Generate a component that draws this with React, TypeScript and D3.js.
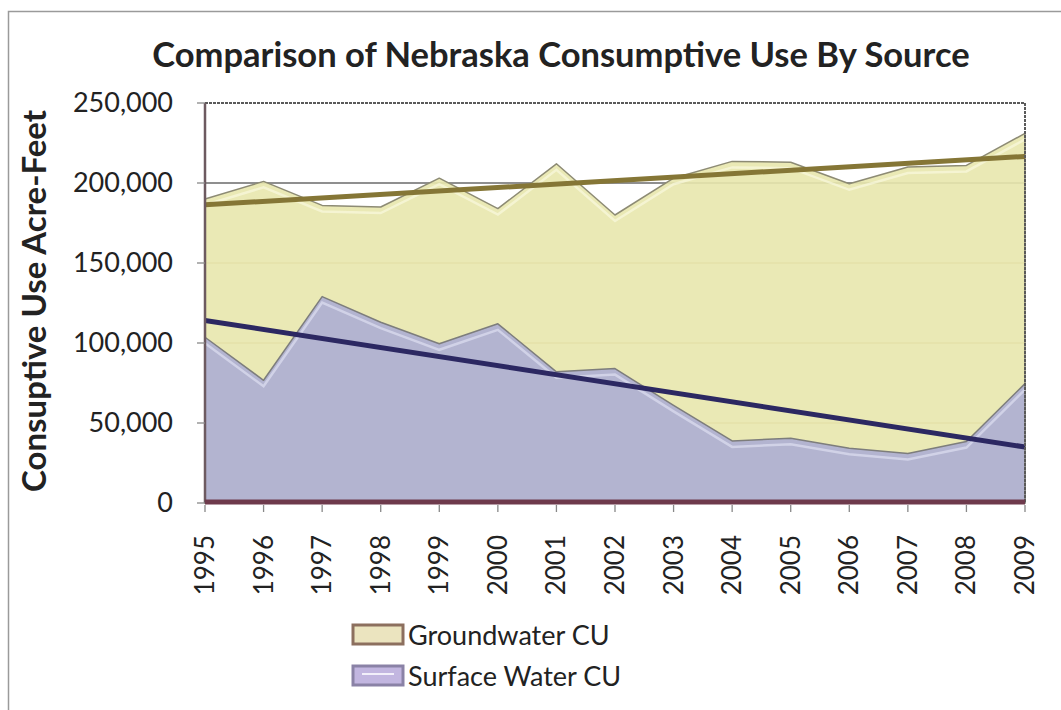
import React from "react";
import * as d3 from "d3";

const years = [1995, 1996, 1997, 1998, 1999, 2000, 2001, 2002, 2003, 2004, 2005, 2006, 2007, 2008, 2009];
// acre-feet
const groundwater = [190000, 201000, 186000, 185000, 203000, 184000, 212000, 180000, 203000, 213500, 213000, 199500, 210000, 211000, 231000];
const surfaceWater = [103600, 76700, 129000, 113000, 99500, 112000, 82000, 84000, 61000, 38800, 40400, 34200, 31000, 38400, 74600];
const yTicks = [0, 50000, 100000, 150000, 200000, 250000];

const W = 1061;
const H = 710;
const margin = { left: 205, right: 36, top: 103, bottom: 207 };
const font = "Lato, 'Open Sans', sans-serif";

// least-squares linear trend, like the spreadsheet trendline
function trend(values: number[]) {
  const n = values.length;
  const mx = (n - 1) / 2;
  const my = d3.mean(values) as number;
  let num = 0;
  let den = 0;
  values.forEach((v, i) => {
    num += (i - mx) * (v - my);
    den += (i - mx) * (i - mx);
  });
  const slope = num / den;
  return [my - slope * mx, my + slope * (n - 1 - mx)];
}

const App: React.FC = () => {
  const x = d3
    .scaleLinear()
    .domain([years[0], years[years.length - 1]])
    .range([margin.left, W - margin.right]);
  const y = d3
    .scaleLinear()
    .domain([0, 250000])
    .range([H - margin.bottom, margin.top]);

  const area = d3
    .area<number>()
    .x((_, i) => x(years[i]))
    .y0(y(0))
    .y1((d) => y(d));
  const line = d3
    .line<number>()
    .x((_, i) => x(years[i]))
    .y((d) => y(d));

  const gwTrend = trend(groundwater);
  const swTrend = trend(surfaceWater);
  const endYears = [years[0], years[years.length - 1]];
  const fmt = d3.format(",");

  const x0 = x.range()[0];
  const x1 = x.range()[1];
  const yb = y(0);
  const yt = y(250000);

  return (
    <svg width={W} height={H} style={{ position: "absolute", left: 0, top: 0, background: "#fff" }}>
      {/* outer chart frame */}
      <rect x={8.5} y={11.5} width={W + 20} height={H + 20} fill="none" stroke="#9a9a9a" strokeWidth={1.5} />

      <text x={561} y={67} textAnchor="middle" fontFamily={font} fontWeight={700} fontSize={34.5} fill="#222">
        Comparison of Nebraska Consumptive Use By Source
      </text>

      {/* gridlines */}
      {yTicks.slice(1, -1).map((t) => (
        <line key={t} x1={x0} x2={x1} y1={y(t)} y2={y(t)} stroke={t === 200000 ? "#6a6a6a" : "#c9a98a"} strokeWidth={1.3} />
      ))}

      <path d={area(groundwater) || ""} fill="#e8e7ad" fillOpacity={0.9} stroke="#8d8b74" strokeWidth={1.5} strokeLinejoin="round" />
      <path d={line(groundwater) || ""} transform="translate(0,6)" fill="none" stroke="#fbfbe6" strokeWidth={2.5} opacity={0.6} />
      <path d={area(surfaceWater) || ""} fill="#b3b4d0" stroke="#7d7d7c" strokeWidth={1.5} strokeLinejoin="round" />
      <path d={line(surfaceWater) || ""} transform="translate(0,6)" fill="none" stroke="#e4e6f6" strokeWidth={2.5} opacity={0.6} />

      {/* trendlines */}
      <line x1={x(endYears[0])} x2={x(endYears[1])} y1={y(gwTrend[0])} y2={y(gwTrend[1])} stroke="#857636" strokeWidth={5} />
      <line x1={x(endYears[0])} x2={x(endYears[1])} y1={y(swTrend[0])} y2={y(swTrend[1])} stroke="#2c2862" strokeWidth={5} />

      {/* plot frame */}
      <line x1={x0} x2={x1} y1={yt} y2={yt} stroke="#5a5a5a" strokeWidth={2} strokeDasharray="3 1" />
      <line x1={x1} x2={x1} y1={yt} y2={yb} stroke="#5a5a5a" strokeWidth={2} strokeDasharray="3 1" />
      <line x1={x0} x2={x0} y1={yt} y2={yb} stroke="#6d5a60" strokeWidth={2.5} />
      <line x1={x0} x2={x1} y1={yb - 1} y2={yb - 1} stroke="#6e3a4c" strokeWidth={5} />

      {/* y axis */}
      {yTicks.map((t) => (
        <g key={t}>
          <line x1={x0 - 8} x2={x0} y1={y(t)} y2={y(t)} stroke="#888" strokeWidth={1.3} />
          <text x={173} y={y(t) + 9} textAnchor="end" fontFamily={font} fontSize={27} fill="#222">
            {fmt(t)}
          </text>
        </g>
      ))}
      <text
        transform={`translate(46,301) rotate(-90)`}
        textAnchor="middle"
        fontFamily={font}
        fontWeight={700}
        fontSize={33}
        fill="#222"
      >
        Consuptive Use Acre-Feet
      </text>

      {/* x axis */}
      {years.map((yr) => (
        <g key={yr}>
          <line x1={x(yr)} x2={x(yr)} y1={yb + 2} y2={yb + 9} stroke="#888" strokeWidth={1.3} />
          <text
            transform={`translate(${x(yr) + 9},${yb + 32}) rotate(-90)`}
            textAnchor="end"
            fontFamily={font}
            fontSize={26}
            fill="#222"
          >
            {yr}
          </text>
        </g>
      ))}

      {/* legend */}
      <rect x={353} y={625} width={50} height={19} fill="#ebe4bf" stroke="#8c6f5e" strokeWidth={3} />
      <text x={408} y={645} fontFamily={font} fontSize={27} fill="#222">
        Groundwater CU
      </text>
      <rect x={353} y={666} width={50} height={19} fill="#c2b6e0" stroke="#8a82a6" strokeWidth={3} />
      <line x1={362} x2={394} y1={674} y2={674} stroke="#f2effa" strokeWidth={2} />
      <text x={408} y={686} fontFamily={font} fontSize={27} fill="#222">
        Surface Water CU
      </text>
    </svg>
  );
};

export default App;
